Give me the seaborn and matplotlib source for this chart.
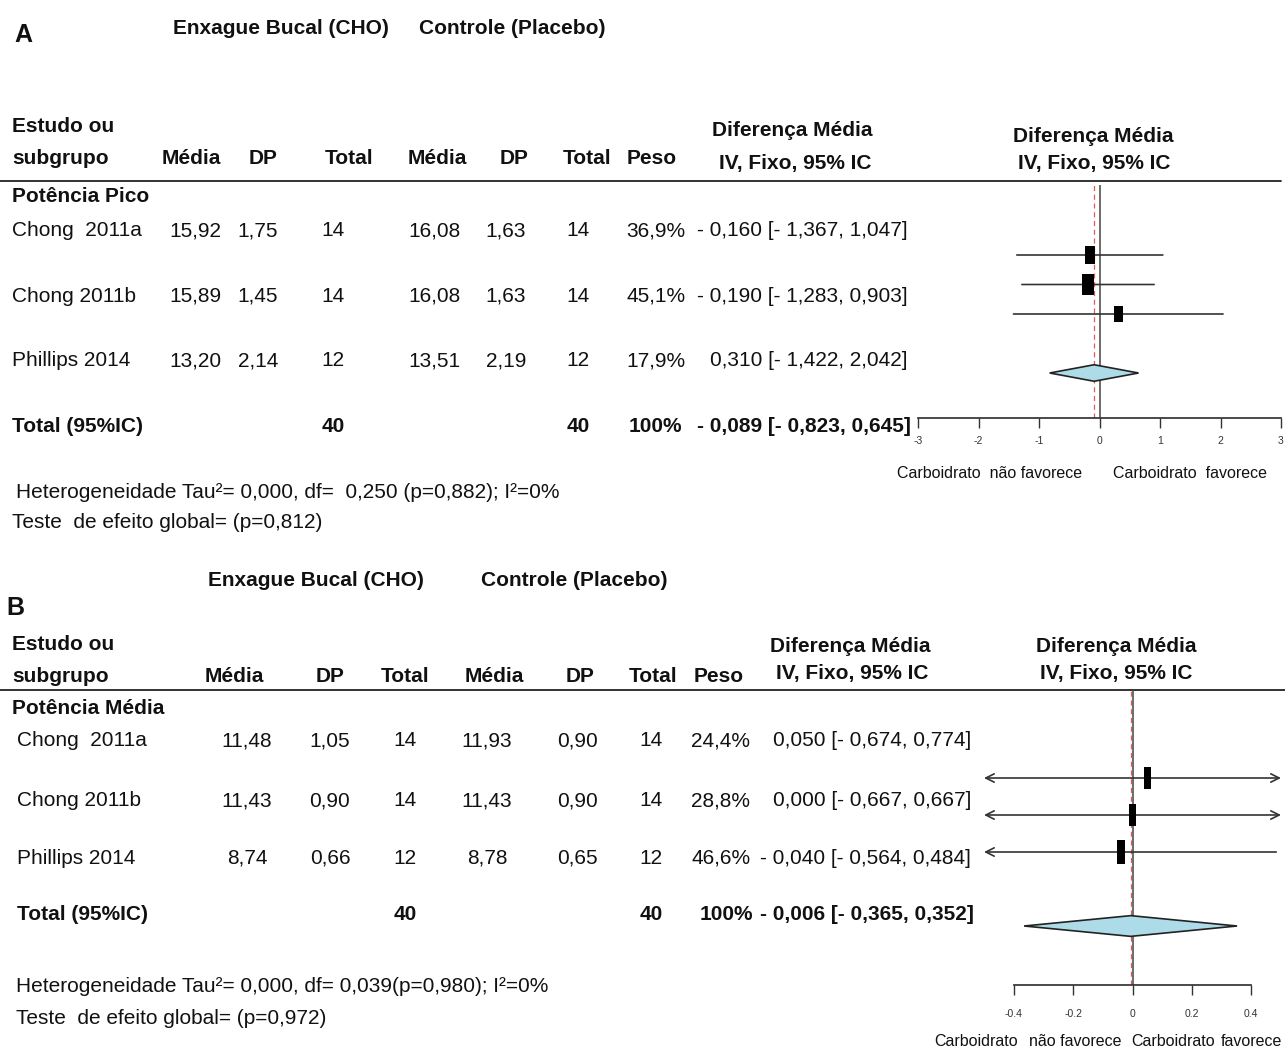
"""Forest plots (two panels) of carbohydrate mouth rinse vs placebo."""
import matplotlib
import matplotlib.pyplot as plt
import seaborn as sns
from matplotlib.path import Path

matplotlib.use('Agg')

# ---- data -------------------------------------------------------------
studies = ["Chong  2011a", "Chong 2011b", "Phillips 2014"]

# Panel A: Potência Pico
a_cho_mean = [15.92, 15.89, 13.20]
a_cho_sd = [1.75, 1.45, 2.14]
a_cho_n = [14, 14, 12]
a_pla_mean = [16.08, 16.08, 13.51]
a_pla_sd = [1.63, 1.63, 2.19]
a_pla_n = [14, 14, 12]
a_weight = [36.9, 45.1, 17.9]
a_md = [-0.160, -0.190, 0.310]
a_lo = [-1.367, -1.283, -1.422]
a_hi = [1.047, 0.903, 2.042]
a_total = (-0.089, -0.823, 0.645)
a_ticks = [-3, -2, -1, 0, 1, 2, 3]
a_ticklabels = ["-3", "-2", "-1", "0", "1", "2", "3"]
a_het = "Heterogeneidade Tau²= 0,000, df=  0,250 (p=0,882); I²=0%"
a_test = "Teste  de efeito global= (p=0,812)"

# Panel B: Potência Média
b_cho_mean = [11.48, 11.43, 8.74]
b_cho_sd = [1.05, 0.90, 0.66]
b_cho_n = [14, 14, 12]
b_pla_mean = [11.93, 11.43, 8.78]
b_pla_sd = [0.90, 0.90, 0.65]
b_pla_n = [14, 14, 12]
b_weight = [24.4, 28.8, 46.6]
b_md = [0.050, 0.000, -0.040]
b_lo = [-0.674, -0.667, -0.564]
b_hi = [0.774, 0.667, 0.484]
b_total = (-0.006, -0.365, 0.352)
b_ticks = [-0.4, -0.2, 0, 0.2, 0.4]
b_ticklabels = ["-0.4", "-0.2", "0", "0.2", "0.4"]
b_het = "Heterogeneidade Tau²= 0,000, df= 0,039(p=0,980); I²=0%"
b_test = "Teste  de efeito global= (p=0,972)"

# ---- style ------------------------------------------------------------
W, H = 1285, 1050
sns.set_theme(style="white")
plt.rcParams['font.family'] = ['Liberation Sans Narrow', 'Liberation Sans', 'DejaVu Sans']
FS = 15


def dec(v, n=2):
    return f"{v:.{n}f}".replace('.', ',')


def sgn(v):
    return f"- {dec(-v, 3)}" if v < 0 else dec(v, 3)


def md_label(m, lo, hi):
    return f"{sgn(m)} [{sgn(lo)}, {sgn(hi)}]"


fig = plt.figure(figsize=(W / 100, H / 100), dpi=100)
bg = fig.add_axes([0, 0, 1, 1])
bg.set_xlim(0, W)
bg.set_ylim(H, 0)
bg.axis('off')


def txt(x, y, s, ha='left', bold=False, size=FS):
    bg.text(x, y, s, ha=ha, va='center', fontsize=size,
            fontweight='bold' if bold else 'normal', color='#111')


def px_axes(x0, y0, x1, y1):
    return fig.add_axes([x0 / W, 1 - y1 / H, (x1 - x0) / W, (y1 - y0) / H])


def table(cfg, cho_mean, cho_sd, cho_n, pla_mean, pla_sd, pla_n, weight, md, lo, hi, total):
    cols = cfg['cols']
    for i, name in enumerate(studies):
        y = cfg['rows'][i]
        txt(cfg['name_x'], y, name)
        vals = [dec(cho_mean[i]), dec(cho_sd[i]), str(cho_n[i]),
                dec(pla_mean[i]), dec(pla_sd[i]), str(pla_n[i]),
                dec(weight[i], 1) + "%"]
        for x, v in zip(cols, vals):
            txt(x, y, v, ha='center')
        txt(cfg['md_x'], y, md_label(md[i], lo[i], hi[i]), ha='right')
    y = cfg['total_y']
    txt(cfg['name_x'], y, "Total (95%IC)", bold=True)
    txt(cols[2], y, str(sum(cho_n)), ha='center', bold=True)
    txt(cols[5], y, str(sum(pla_n)), ha='center', bold=True)
    txt(cfg['peso_tot_x'], y, "100%", ha='center', bold=True)
    txt(cfg['md_x'] + 3, y, md_label(*total), ha='right', bold=True)


def forest(box, row_px, step, xlim, ticks, ticklabels, md, lo, hi, weight, total,
           aspect, sizes, label_pad):
    x0, y0, x1, y1 = box
    ax = px_axes(x0, y0, x1, y1)
    ax.set_xlim(*xlim)
    ax.set_ylim((y1 - row_px) / step, -(row_px - y0) / step)
    ax.patch.set_alpha(0)
    rows = list(range(len(md)))
    ax.axvline(0, color='#444', lw=1.1, zorder=1)
    ax.axvline(total[0], color='#e05a5a', lw=0.9, ls=(0, (4, 3)), zorder=1)
    for r, m, l, h in zip(rows, md, lo, hi):
        for end in (l, h):
            clipped = end < xlim[0] or end > xlim[1]
            tip = min(max(end, xlim[0]), xlim[1])
            ax.annotate('', xy=(tip, r), xytext=(m, r),
                        arrowprops=dict(arrowstyle='->,head_length=0.5,head_width=0.25' if clipped else '-',
                                        color='#333', lw=1.2, shrinkA=0, shrinkB=0))
    rect = Path([(-aspect / 2, -0.5), (aspect / 2, -0.5), (aspect / 2, 0.5),
                 (-aspect / 2, 0.5), (-aspect / 2, -0.5)])
    sns.scatterplot(x=md, y=rows, size=weight, sizes=sizes, marker=rect,
                    color='black', linewidth=0, legend=False, ax=ax, zorder=3)
    dr, dh = len(md) + 1, 0.28
    est, dlo, dhi = total
    ax.fill([dlo, est, dhi, est], [dr, dr - dh, dr, dr + dh],
            facecolor='#aedbe8', edgecolor='#222', lw=1.2, zorder=3)
    for s in ('left', 'right', 'top'):
        ax.spines[s].set_visible(False)
    ax.spines['bottom'].set_bounds(ticks[0], ticks[-1])
    ax.spines['bottom'].set_color('#333')
    ax.set_yticks([])
    ax.set_xticks(ticks)
    ax.set_xticklabels(ticklabels)
    ax.tick_params(axis='x', bottom=True, direction='out', length=7, width=1,
                   color='#333', labelsize=7.5, pad=label_pad, labelcolor='#333')
    ax.set_xlabel('')
    ax.set_ylabel('')
    return ax


# ---- Panel A ----------------------------------------------------------
txt(14, 35, "A", bold=True, size=18)
txt(281, 28, "Enxague Bucal (CHO)", ha='center', bold=True)
txt(512, 28, "Controle (Placebo)", ha='center', bold=True)
txt(12, 127, "Estudo ou", bold=True)
txt(12, 158, "subgrupo", bold=True)
for x, s in zip([191, 263, 349, 437, 514, 587, 652],
                ["Média", "DP", "Total", "Média", "DP", "Total", "Peso"]):
    txt(x, 158, s, ha='center', bold=True)
txt(792, 131, "Diferença Média", ha='center', bold=True)
txt(795, 163, "IV, Fixo, 95% IC", ha='center', bold=True)
txt(1093, 136, "Diferença Média", ha='center', bold=True)
txt(1094, 164, "IV, Fixo, 95% IC", ha='center', bold=True)
bg.plot([0, 1281], [181, 181], color='#222', lw=1.3)
txt(12, 196, "Potência Pico", bold=True)
table(dict(cols=[195, 258, 333, 434, 506, 578, 656], rows=[231, 296, 361],
           name_x=12, md_x=908, total_y=427, peso_tot_x=655),
      a_cho_mean, a_cho_sd, a_cho_n, a_pla_mean, a_pla_sd, a_pla_n,
      a_weight, a_md, a_lo, a_hi, a_total)
txt(16, 492, a_het)
txt(12, 523, a_test)
forest((918, 185, 1281, 418), 255, 29.5, (-3, 3), a_ticks, a_ticklabels,
       a_md, a_lo, a_hi, a_weight, a_total, 0.55, (130, 210), 6)
txt(990, 474, "Carboidrato  não favorece", ha='center', size=11.5)
txt(1190, 474, "Carboidrato  favorece", ha='center', size=11.5)

# ---- Panel B ----------------------------------------------------------
txt(6, 608, "B", bold=True, size=18)
txt(316, 581, "Enxague Bucal (CHO)", ha='center', bold=True)
txt(574, 581, "Controle (Placebo)", ha='center', bold=True)
txt(12, 645, "Estudo ou", bold=True)
txt(12, 677, "subgrupo", bold=True)
for x, s in zip([234, 330, 405, 494, 580, 653, 719],
                ["Média", "DP", "Total", "Média", "DP", "Total", "Peso"]):
    txt(x, 677, s, ha='center', bold=True)
txt(850, 647, "Diferença Média", ha='center', bold=True)
txt(852, 674, "IV, Fixo, 95% IC", ha='center', bold=True)
txt(1116, 647, "Diferença Média", ha='center', bold=True)
txt(1116, 674, "IV, Fixo, 95% IC", ha='center', bold=True)
bg.plot([0, 1285], [690, 690], color='#222', lw=1.3)
txt(12, 709, "Potência Média", bold=True)
table(dict(cols=[247, 330, 405, 487, 577, 651, 721], rows=[741, 801, 858],
           name_x=17, md_x=971, total_y=914, peso_tot_x=726),
      b_cho_mean, b_cho_sd, b_cho_n, b_pla_mean, b_pla_sd, b_pla_n,
      b_weight, b_md, b_lo, b_hi, b_total)
txt(16, 986, b_het)
txt(16, 1018, b_test)
forest((984, 690, 1281, 985), 778, 37, (-0.5, 0.5), b_ticks, b_ticklabels,
       b_md, b_lo, b_hi, b_weight, b_total, 0.32, (250, 320), 10)
for x, s in zip([976, 1075, 1173, 1251],
                ["Carboidrato", "não favorece", "Carboidrato", "favorece"]):
    txt(x, 1042, s, ha='center', size=11.5)

fig.savefig("out.png", dpi=100)
plt.close(fig)
